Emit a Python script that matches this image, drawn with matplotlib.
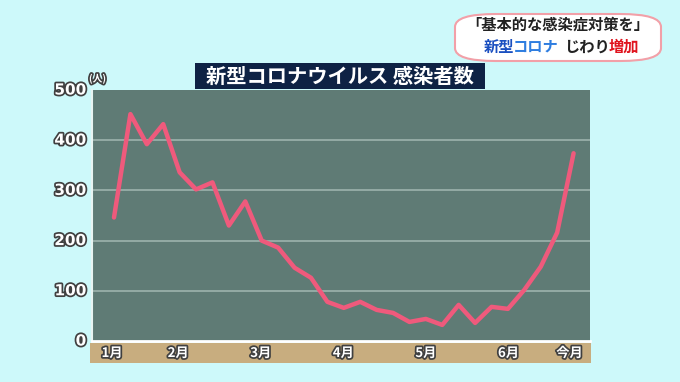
import matplotlib
matplotlib.use("Agg")
import matplotlib.pyplot as plt
import matplotlib.patheffects as pe
from matplotlib.patches import FancyBboxPatch, Rectangle

plt.rcParams['font.family'] = ['Noto Sans CJK JP', 'DejaVu Sans']

# ---- data ----
values = [246, 452, 392, 432, 336, 302, 316, 230, 278, 200, 186, 146, 126, 78,
          66, 78, 62, 56, 38, 44, 32, 72, 36, 68, 64, 102, 148, 216, 374]
month_labels = ['1月', '2月', '3月', '4月', '5月', '6月', '今月']
month_pos = [0, 4, 9, 14, 19, 24, 27.7]
y_ticks = [0, 100, 200, 300, 400, 500]
title = '新型コロナウイルス 感染者数'
banner_line1 = '「基本的な感染症対策を」'
banner_parts = ['新型', 'コロナ', 'じわり', '増加']
banner_colors = ['#1a4fc0', '#2e7de0', '#222222', '#e0141e']
banner_gaps = [0, 0, 7, 0]

W, H = 680, 382
fig = plt.figure(figsize=(6.8, 3.82), dpi=100)
fig.patch.set_facecolor('#cdf9fa')

def fx(px):
    return px / W
def fy(py):
    return 1 - py / H

ax = fig.add_axes([fx(92), fy(341), fx(590) - fx(92), fy(90) - fy(341)])
ax.set_facecolor('#5f7b75')
x = list(range(len(values)))
ax.set_xlim(-1.34, 29.0)
ax.set_ylim(0, 500)
for v in y_ticks[1:-1]:
    ax.axhline(v, color='#9db3ad', lw=1.2, zorder=1)
ax.plot(x, values, color='#ef5a7c', lw=3.2, solid_joinstyle='round',
        solid_capstyle='round', zorder=3)
ax.set_xticks([])
ax.set_yticks([])
for s in ['top', 'right']:
    ax.spines[s].set_visible(False)
ax.spines['left'].set_color('#e8f4f2')
ax.spines['left'].set_linewidth(1.5)
ax.spines['bottom'].set_color('#ffffff')
ax.spines['bottom'].set_linewidth(2)

stroke = [pe.withStroke(linewidth=2.5, foreground='#404040')]

# y tick labels
for v in y_ticks:
    ax.text(-1.34 - 0.35, v, str(v), ha='right', va='center', fontsize=11,
            fontweight='bold', color='white', path_effects=stroke,
            family=['DejaVu Sans'], clip_on=False)
ax.text(-1.0, 512, '(人)', ha='center', va='bottom', fontsize=7,
        fontweight='bold', color='white', path_effects=stroke, clip_on=False)

# x axis band
band = fig.add_axes([fx(90), fy(363), fx(591) - fx(90), fy(343) - fy(363)])
band.set_xlim(ax.get_xlim())
band.set_ylim(0, 1)
band.set_facecolor('#c8ad7f')
for s in band.spines.values():
    s.set_visible(False)
band.set_xticks([])
band.set_yticks([])
for p, lab in zip(month_pos, month_labels):
    band.text(p, 0.5, lab, ha='center', va='center', fontsize=9.5,
              fontweight='bold', color='white', path_effects=stroke)

# title box
fig.patches.append(Rectangle((fx(195), fy(89)), fx(485) - fx(195), fy(63) - fy(89),
                             transform=fig.transFigure, facecolor='#0e2244',
                             edgecolor='none', zorder=5))
fig.text(fx(340), fy(76), title, ha='center', va='center', fontsize=14.6,
         fontweight='bold', color='white', zorder=6)

# banner
fig.patches.append(FancyBboxPatch((fx(455), fy(61)), fx(661) - fx(455), fy(14) - fy(61),
                                  boxstyle='round,pad=0,rounding_size=0.06',
                                  transform=fig.transFigure, facecolor='white',
                                  edgecolor='#f2a0a8', lw=1.5, zorder=5,
                                  mutation_aspect=H / W))
fig.text(fx(558), fy(25), banner_line1, ha='center', va='center', fontsize=11,
         fontweight='bold', color='#222222', zorder=6)

renderer = fig.canvas.get_renderer()
xpos = 484
for part, col, gap in zip(banner_parts, banner_colors, banner_gaps):
    xpos += gap
    t = fig.text(fx(xpos), fy(47), part, ha='left', va='center', fontsize=11,
                 fontweight='bold', color=col, zorder=6)
    bb = t.get_window_extent(renderer=renderer)
    xpos += bb.width - 1.5

fig.savefig('out.png', dpi=100, facecolor=fig.get_facecolor())
